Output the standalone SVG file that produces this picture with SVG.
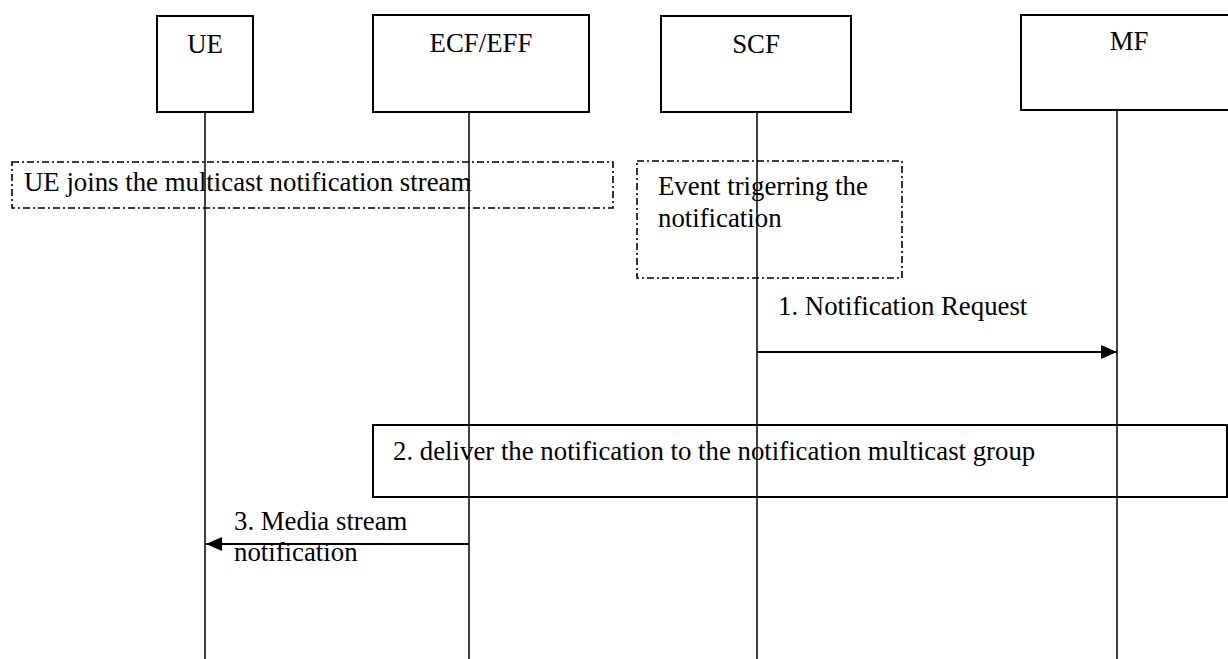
<svg xmlns="http://www.w3.org/2000/svg" width="1228" height="659" viewBox="0 0 1228 659">
<defs>
<style>
text{font-family:"Liberation Serif","Times New Roman",serif;font-size:26.8px;fill:#000}
.box{fill:#fff;stroke:#000;stroke-width:2}
.life{stroke:#000;stroke-width:1.5;fill:none}
.dd{fill:none;stroke:#000;stroke-width:1.6;stroke-dasharray:7 3 2 3}
.msg{stroke:#000;stroke-width:2;fill:none}
.c{text-anchor:middle}
</style>
<marker id="ah" viewBox="0 0 16 14" refX="16" refY="7" markerWidth="16" markerHeight="14" markerUnits="userSpaceOnUse" orient="auto">
<path d="M0,0 L16,7 L0,14 Z" fill="#000"/>
</marker>
</defs>
<rect width="1228" height="659" fill="#fff"/>
<g id="lifelines">
<line class="life" x1="205" y1="112" x2="205" y2="659"/>
<line class="life" x1="469" y1="112" x2="469" y2="659"/>
<line class="life" x1="757" y1="112" x2="757" y2="659"/>
<line class="life" x1="1117" y1="110" x2="1117" y2="659"/>
</g>
<g id="node-ue"><rect class="box" x="157" y="16" width="96" height="96"/><text class="c" x="205" y="53">UE</text></g>
<g id="node-ecf"><rect class="box" x="373" y="15" width="216" height="97"/><text class="c" x="481" y="52">ECF/EFF</text></g>
<g id="node-scf"><rect class="box" x="661" y="16" width="190" height="96"/><text class="c" x="756" y="53">SCF</text></g>
<g id="node-mf"><rect class="box" x="1021" y="15" width="216" height="95"/><text class="c" x="1129" y="50">MF</text></g>
<g id="note-join"><rect class="dd" x="12" y="162" width="601" height="46"/><text x="24" y="191">UE joins the multicast notification stream</text></g>
<g id="note-event"><rect class="dd" x="637" y="161" width="265" height="117"/><text x="658" y="195">Event trigerring the</text><text x="658" y="227">notification</text></g>
<g id="node-deliver"><rect x="373" y="425" width="854" height="72" fill="none" stroke="#000" stroke-width="2"/><text x="393" y="460">2. deliver the notification to the notification multicast group</text></g>
<g id="connectors">
<line class="msg" x1="757" y1="352" x2="1117" y2="352" marker-end="url(#ah)"/>
<line class="msg" x1="469" y1="544" x2="206" y2="544" marker-end="url(#ah)"/>
</g>
<g id="labels">
<text x="778" y="315">1. Notification Request</text>
<text x="234" y="530">3. Media stream</text>
<text x="234" y="561">notification</text>
</g>
</svg>
